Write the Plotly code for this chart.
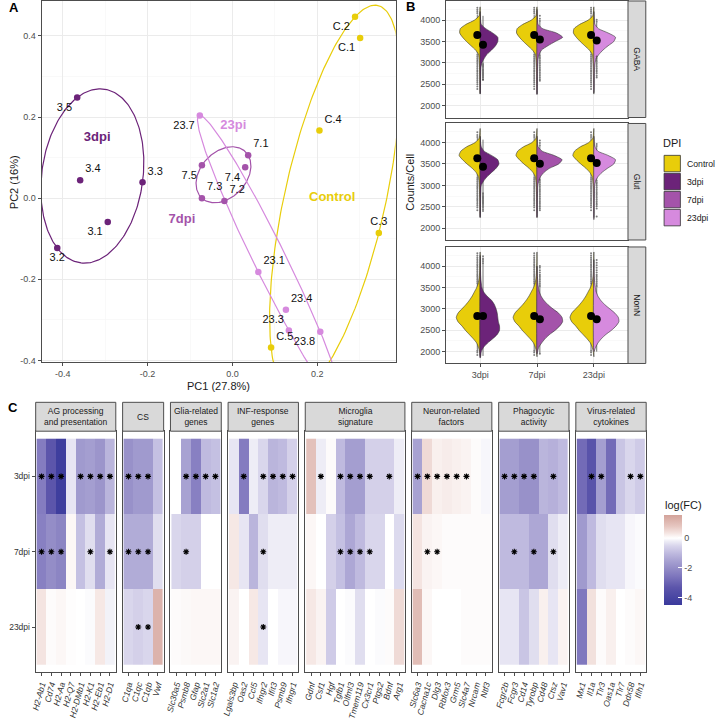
import numpy as np
import plotly.graph_objects as go

# =====================================================================
# DATA
# =====================================================================
# ---------- Panel A : PCA ----------
pca_sample = ["C.1", "C.2", "C.3", "C.4", "C.5",
              "3.1", "3.2", "3.3", "3.4", "3.5",
              "7.1", "7.2", "7.3", "7.4", "7.5",
              "23.1", "23.3", "23.4", "23.7", "23.8"]
pca_group = ["Control", "Control", "Control", "Control", "Control",
             "3dpi", "3dpi", "3dpi", "3dpi", "3dpi",
             "7dpi", "7dpi", "7dpi", "7dpi", "7dpi",
             "23dpi", "23dpi", "23dpi", "23dpi", "23dpi"]
pc1 = [0.301, 0.289, 0.345, 0.205, 0.091,
       -0.294, -0.413, -0.212, -0.359, -0.366,
       0.037, -0.019, -0.072, 0.030, -0.072,
       0.061, 0.133, 0.126, -0.077, 0.207]
pc2 = [0.395, 0.447, -0.086, 0.167, -0.368,
       -0.059, -0.123, 0.039, 0.044, 0.248,
       0.106, -0.007, 0.000, 0.076, 0.081,
       -0.182, -0.326, -0.275, 0.204, -0.329]
group_label_text = ["Control", "3dpi", "7dpi", "23pi"]
group_label_group = ["Control", "3dpi", "7dpi", "23dpi"]
group_label_pc1 = [0.235, -0.319, -0.119, 0.002]
group_label_pc2 = [0.000, 0.150, -0.052, 0.179]

# ---------- Panel B : counts per cell ----------
b_facets = ["GABA", "Glut", "NonN"]
b_groups = ["3dpi", "7dpi", "23dpi"]
violin_levels = [1800, 1900, 2000, 2100, 2200, 2300, 2400, 2500, 2600, 2700,
                 2800, 2900, 3000, 3100, 3200, 3300, 3400, 3500, 3600, 3700,
                 3800, 3900, 4000, 4100, 4200, 4300, 4400]
# half-widths of the density at violin_levels (0 = outside data range)
gaba_ctrl_w = [0, 0, 0, 0, 0, 0.004, 0.005, 0.006, 0.007, 0.008, 0.01, 0.012, 0.015, 0.02,
               0.03, 0.08, 0.16, 0.24, 0.31, 0.36, 0.35, 0.25, 0.1, 0.02, 0.008, 0.003, 0]
gaba_3dpi_w = [0, 0, 0, 0, 0, 0.004, 0.005, 0.006, 0.007, 0.008, 0.01, 0.015, 0.03, 0.07,
               0.12, 0.2, 0.27, 0.31, 0.31, 0.22, 0.1, 0.02, 0.008, 0.004, 0.002, 0, 0]
gaba_7dpi_w = [0, 0, 0, 0, 0, 0.004, 0.005, 0.006, 0.007, 0.008, 0.009, 0.011, 0.014, 0.02,
               0.04, 0.08, 0.19, 0.32, 0.45, 0.34, 0.1, 0.02, 0.01, 0.006, 0.003, 0, 0]
gaba_23dpi_w = [0, 0, 0, 0, 0, 0.004, 0.005, 0.006, 0.007, 0.008, 0.01, 0.014, 0.02, 0.04,
                0.09, 0.16, 0.25, 0.35, 0.38, 0.25, 0.08, 0.02, 0.008, 0.004, 0.002, 0, 0]
glut_ctrl_w = [0, 0, 0, 0, 0, 0.004, 0.005, 0.006, 0.007, 0.008, 0.01, 0.012, 0.015, 0.02,
               0.03, 0.07, 0.14, 0.23, 0.31, 0.37, 0.34, 0.24, 0.09, 0.02, 0.008, 0.003, 0]
glut_3dpi_w = [0, 0, 0, 0, 0, 0.004, 0.005, 0.006, 0.007, 0.008, 0.01, 0.013, 0.02, 0.06,
               0.12, 0.2, 0.28, 0.33, 0.31, 0.2, 0.07, 0.02, 0.008, 0.004, 0, 0, 0]
glut_7dpi_w = [0, 0, 0, 0, 0, 0.004, 0.005, 0.006, 0.007, 0.008, 0.009, 0.011, 0.014, 0.03,
               0.06, 0.12, 0.22, 0.38, 0.44, 0.3, 0.09, 0.02, 0.008, 0.004, 0, 0, 0]
glut_23dpi_w = [0, 0, 0, 0, 0, 0.004, 0.005, 0.006, 0.007, 0.008, 0.009, 0.011, 0.014, 0.03,
                0.07, 0.14, 0.24, 0.35, 0.38, 0.25, 0.07, 0.02, 0.008, 0.004, 0, 0, 0]
nonn_ctrl_w = [0, 0.003, 0.01, 0.03, 0.06, 0.12, 0.19, 0.26, 0.32, 0.39, 0.42, 0.39, 0.32, 0.25,
               0.19, 0.14, 0.1, 0.06, 0.035, 0.02, 0.012, 0.008, 0.006, 0.004, 0.003, 0.002, 0]
nonn_3dpi_w = [0, 0.01, 0.02, 0.06, 0.13, 0.22, 0.3, 0.34, 0.34, 0.32, 0.31, 0.3, 0.28, 0.25,
               0.2, 0.12, 0.06, 0.03, 0.02, 0.012, 0.008, 0.006, 0.004, 0.003, 0.002, 0, 0]
nonn_7dpi_w = [0, 0, 0.01, 0.03, 0.08, 0.14, 0.22, 0.32, 0.4, 0.45, 0.44, 0.38, 0.28, 0.19,
               0.12, 0.07, 0.04, 0.025, 0.015, 0.01, 0.006, 0.004, 0, 0, 0, 0, 0]
nonn_23dpi_w = [0, 0, 0, 0.03, 0.07, 0.13, 0.21, 0.31, 0.39, 0.44, 0.43, 0.37, 0.28, 0.19,
                0.12, 0.07, 0.04, 0.025, 0.015, 0.01, 0.006, 0.004, 0.003, 0.002, 0, 0, 0]
# order of the 12 entries below: GABA ctrl,3,7,23 | Glut ctrl,3,7,23 | NonN ctrl,3,7,23
violin_min = [2270, 2280, 2260, 2300, 2250, 2250, 2250, 2200, 1880, 1850, 1950, 2000]
violin_max = [4310, 4200, 4250, 4200, 4330, 4150, 4150, 4150, 4330, 4250, 4000, 4150]
box_q1 = [3561, 3254, 3485, 3462, 3535, 3302, 3442, 3419, 2618, 2502, 2541, 2541]
box_median = [3670, 3440, 3584, 3560, 3650, 3450, 3540, 3520, 2830, 2830, 2760, 2750]
box_q3 = [3792, 3600, 3677, 3654, 3767, 3612, 3635, 3612, 3004, 3120, 2927, 2927]
box_lower = [3215, 3000, 3200, 3180, 3190, 2840, 3160, 3130, 2040, 1900, 1965, 2000]
box_upper = [4130, 4100, 3960, 3940, 4110, 4070, 3920, 3900, 3580, 4040, 3500, 3500]
group_mean = [3654, 3423, 3546, 3523, 3637, 3437, 3506, 3521, 2834, 2834, 2757, 2757]
out_gaba_ctrl = [4160, 4200, 4240, 4290, 3190, 3150, 3110, 3070, 3030, 2990, 2950, 2910, 2870,
                 2830, 2790, 2750, 2710, 2670, 2630, 2590, 2550, 2500, 2450, 2390]
out_gaba_3dpi = [2980, 2950, 2920, 2890, 2860, 2830, 2800, 2770, 2740, 2710, 2680, 2650, 2620, 2600]
out_gaba_7dpi = [3980, 4030, 4100, 3180, 3140, 3100, 3060, 3020, 2980, 2940, 2900, 2860, 2820,
                 2780, 2740, 2700, 2660, 2620, 2580]
out_gaba_23dpi = [3960, 4010, 3150, 3110, 3070, 3030, 2990, 2950, 2910, 2870, 2830, 2790, 2750,
                  2700, 2660]
out_glut_ctrl = [4130, 4180, 4240, 3170, 3130, 3090, 3050, 3010, 2970, 2930, 2890, 2850, 2810,
                 2770, 2730, 2690, 2650, 2610, 2570, 2530, 2480, 2420]
out_glut_3dpi = [2820, 2790, 2760, 2730, 2700, 2670, 2640, 2610, 2580, 2550, 2520, 2480, 2440, 2400]
out_glut_7dpi = [3940, 3990, 4050, 3140, 3100, 3060, 3020, 2980, 2940, 2900, 2860, 2820, 2780,
                 2740, 2700, 2660, 2620, 2580, 2540, 2500, 2460, 2420]
out_glut_23dpi = [3920, 3970, 3110, 3070, 3030, 2990, 2950, 2910, 2870, 2830, 2790, 2750, 2710,
                  2670, 2630, 2590, 2550, 2510, 2460, 2270]
out_nonn_ctrl = [3600, 3640, 3680, 3720, 3760, 3800, 3840, 3880, 3920, 3960, 4000, 4040, 4080,
                 4120, 4160, 4200, 4250, 4300, 2020, 1980, 1920]
out_nonn_3dpi = [4060, 4100, 4140, 4180, 4230]
out_nonn_7dpi = [3520, 3560, 3600, 3640, 3680, 3720, 3760, 3800, 3850, 3900, 3960, 4000, 1950]
out_nonn_23dpi = [3520, 3560, 3600, 3640, 3680, 3720, 3760, 3800, 3850, 3900, 3960, 4020, 4080, 4140]

# ---------- Panel C : log fold changes ----------
module_names = ["AG processing<br>and presentation", "CS", "Glia-related<br>genes",
                "INF-response<br>genes", "Microglia<br>signature", "Neuron-related<br>factors",
                "Phagocytic<br>activity", "Virus-related<br>cytokines"]
genes_ag = ["H2-Ab1", "Cd74", "H2-Aa", "H2-Q7", "H2-DMb1", "H2-K1", "H2-Eb1", "H2-D1"]
genes_cs = ["C1qa", "C1qc", "C1qb", "Vwf"]
genes_glia = ["Slc30a5", "Psmb8", "Gfap", "Slc2a1", "Slc1a2"]
genes_inf = ["Lgals3bp", "Oas2", "Ccl5", "Ifngr2", "Ifit3", "Psmb9", "Ifngr1"]
genes_micro = ["Gdnf", "Csf1", "Hgf", "Tgfb1", "Olfml3", "Tmem119", "Cx3cr1", "Ptgs2", "Bdnf", "Arg1"]
genes_neuron = ["Slc6a3", "Cacna1c", "Dlg3", "Rbfox3", "Grm5", "Slc4a7", "Nrcam", "Ntf3"]
genes_phago = ["Fcgr2b", "Fcgr3", "Cd14", "Tyrobp", "Cd48", "Ctsz", "Vav1"]
genes_virus = ["Mx1", "Il1a", "Tlr3", "Oas1a", "Tlr7", "Ddx58", "Ifih1"]
heat_rows = ["3dpi", "7dpi", "23dpi"]
lfc_3dpi = [-2.4, -3.3, -4.3, -0.3, -1.7, -1.6, -1.8, -1.1,
            -1.9, -1.7, -1.7, -0.9,
            0.0, -1.5, -2.3, -1.0, -0.9,
            -0.3, -2.4, -0.2, -0.5, -1.1, -1.0, -0.6,
            0.9, -0.2, 0.05, -1.0, -1.6, -1.6, -0.6, -0.6, -0.6, -0.2,
            -1.5, 0.5, 0.2, 0.25, 0.2, 0.15, 0.05, -0.1,
            -1.6, -1.6, -1.9, -1.9, -1.1, -1.2, -1.0,
            -2.8, -3.4, -1.6, -2.8, -0.8, -0.5, -0.7]
lfc_7dpi = [-2.3, -2.0, -2.2, 0.1, -0.9, -0.4, -1.3, -0.3,
            -1.3, -1.3, -1.3, -0.4,
            -0.5, -0.6, -0.6, 0.0, 0.0,
            0.3, -0.3, -1.1, -0.4, -0.2, -0.2, -0.2,
            0.1, 0.0, -0.6, -0.9, -1.4, -1.0, -0.5, -0.5, 0.0, -0.45,
            0.35, 0.15, 0.1, 0.05, 0.05, 0.05, 0.05, 0.05,
            -1.0, -1.0, -1.0, -1.4, -1.4, -0.4, -0.2,
            -1.7, -1.0, -0.4, -0.3, -0.3, -0.1, -0.05]
lfc_23dpi = [0.35, 0.05, 0.1, 0.02, 0.0, -0.05, 0.3, -0.15,
             -0.5, -0.6, -0.5, 1.2,
             0.05, 0.08, 0.1, 0.1, 0.1,
             0.15, 0.0, 0.3, -0.3, 0.0, -0.1, -0.1,
             0.3, 0.15, -0.7, 0.0, -0.05, -0.4, 0.0, -0.05, 0.05, 0.5,
             1.0, 0.1, 0.0, 0.0, 0.0, 0.05, 0.05, 0.05,
             -0.3, -0.3, -0.8, -0.4, 0.2, -0.3, 0.15,
             -2.5, 0.4, 0.05, 0.2, 0.0, 0.05, 0.1]
sig_3dpi = [1, 1, 1, 0, 1, 1, 1, 1,
            1, 1, 1, 0,
            0, 1, 1, 1, 1,
            0, 1, 0, 1, 1, 1, 1,
            0, 1, 0, 1, 1, 1, 1, 0, 1, 0,
            1, 1, 1, 1, 1, 1, 0, 0,
            1, 1, 1, 1, 0, 1, 0,
            0, 1, 1, 0, 0, 1, 1]
sig_7dpi = [1, 1, 1, 0, 0, 1, 0, 1,
            1, 1, 1, 0,
            0, 1, 0, 0, 0,
            0, 0, 0, 1, 0, 0, 0,
            0, 0, 0, 1, 1, 1, 1, 0, 0, 0,
            0, 1, 1, 0, 0, 0, 0, 0,
            0, 1, 0, 1, 0, 1, 0,
            0, 0, 0, 0, 0, 0, 0]
sig_23dpi = [0, 0, 0, 0, 0, 0, 0, 0,
             0, 1, 1, 0,
             0, 0, 0, 0, 0,
             0, 0, 0, 1, 0, 0, 0,
             0, 0, 0, 0, 0, 0, 0, 0, 0, 0,
             0, 0, 0, 0, 0, 0, 0, 0,
             0, 0, 0, 0, 0, 0, 0,
             0, 0, 0, 0, 0, 0, 0]
colorbar_ticks = [-4, -2, 0]

# =====================================================================
# STYLE / LAYOUT HELPERS
# =====================================================================
W, H = 717, 721
FONT = "Liberation Sans, Arial, Helvetica, sans-serif"
INK = "#1A1A1A"
TICKC = "#4D4D4D"
FRAME = "#4D4D4D"
GRID = "#EBEBEB"
GRIDMINOR = "#F5F5F5"
STRIPC = "#D9D9D9"
DPI_COLORS = {"Control": "#E8CD0A", "3dpi": "#6C2379", "7dpi": "#A453AA", "23dpi": "#D68ADE"}
label_pos = ["bottom left", "bottom left", "top center", "top right", "top right",
             "bottom left", "bottom center", "top right", "top right", "bottom left",
             "top right", "top right", "top right", "bottom left", "bottom left",
             "top right", "top left", "top right", "bottom left", "bottom left"]
C_MIN, C_MAX = -4.47, 1.55
cs_vals = [-4.47, -3.3, -2.5, -2.0, -1.5, -1.0, -0.5, -0.2, 0.0, 0.35, 0.8, 1.55]
cs_cols = ["#3A3A9C", "#5C55AB", "#8078BE", "#948DC7", "#A8A2D2", "#BFBADF", "#D9D6EC",
           "#EEEDF6", "#FFFFFF", "#F4E4E1", "#E6C6C0", "#D3A39A"]


def fx(p):
    return p / W


def fy(p):
    return 1 - p / H


def mvee(points, tol=1e-7, maxit=200000):
    """Minimum-volume enclosing ellipse (Khachiyan)."""
    P = np.asarray(points, float)
    N, d = P.shape
    Q = np.vstack([P.T, np.ones(N)])
    u = np.full(N, 1.0 / N)
    for _ in range(maxit):
        X = (Q * u) @ Q.T
        M = np.einsum("ij,ji->i", Q.T, np.linalg.solve(X, Q))
        j = int(np.argmax(M))
        step = (M[j] - d - 1.0) / ((d + 1.0) * (M[j] - 1.0))
        new_u = (1 - step) * u
        new_u[j] += step
        done = np.linalg.norm(new_u - u) < tol
        u = new_u
        if done:
            break
    c = P.T @ u
    A = np.linalg.inv((P.T * u) @ P - np.outer(c, c)) / d
    w, V = np.linalg.eigh(A)
    t = np.linspace(0, 2 * np.pi, 240)
    circ = np.vstack([np.cos(t) / np.sqrt(w[0]), np.sin(t) / np.sqrt(w[1])])
    return c[:, None] + V @ circ


def base_axis(**kw):
    d = dict(showline=True, mirror=True, linecolor=FRAME, linewidth=1, zeroline=False,
             ticks="outside", ticklen=3, tickwidth=1, tickcolor=FRAME,
             tickfont=dict(family=FONT, size=9, color=TICKC), showgrid=False, fixedrange=True)
    d.update(kw)
    return d


fig = go.Figure()
layout = {}
shapes = []
annotations = []


def annot(text, x, y, size=11, color=INK, xanchor="center", yanchor="middle", angle=0, bold=False):
    annotations.append(dict(text=("<b>%s</b>" % text) if bold else text, x=fx(x), y=fy(y),
                             xref="paper", yref="paper", showarrow=False, xanchor=xanchor,
                             yanchor=yanchor, textangle=angle, borderpad=0,
                             font=dict(family=FONT, size=size, color=color)))


# =====================================================================
# PANEL A
# =====================================================================
for g in ["Control", "3dpi", "7dpi", "23dpi"]:
    idx = [i for i, gg in enumerate(pca_group) if gg == g]
    pts = np.array([[pc1[i], pc2[i]] for i in idx])
    e = mvee(pts)
    fig.add_trace(go.Scatter(x=e[0], y=e[1], mode="lines", xaxis="x", yaxis="y",
                             line=dict(color=DPI_COLORS[g], width=1.2), hoverinfo="skip"))
fig.add_trace(go.Scatter(
    x=pc1, y=pc2, mode="markers+text", xaxis="x", yaxis="y", text=pca_sample,
    textposition=label_pos, textfont=dict(family=FONT, size=11, color="#111111"),
    marker=dict(size=6.5, color=[DPI_COLORS[g] for g in pca_group]), hoverinfo="skip"))
fig.add_trace(go.Scatter(
    x=group_label_pc1, y=group_label_pc2, mode="text", xaxis="x", yaxis="y",
    text=["<b>%s</b>" % t for t in group_label_text], textposition="middle center",
    textfont=dict(family=FONT, size=13, color=[DPI_COLORS[g] for g in group_label_group]),
    hoverinfo="skip"))

layout["xaxis"] = base_axis(domain=[fx(35), fx(393)], range=[-0.4499, 0.3846], anchor="y",
                            tickvals=[-0.4, -0.2, 0.0, 0.2], ticktext=["-0.4", "-0.2", "0.0", "0.2"],
                            showgrid=True, gridcolor=GRID, gridwidth=1,
                            minor=dict(tickvals=[-0.3, -0.1, 0.1, 0.3], showgrid=True,
                                       gridcolor=GRIDMINOR, gridwidth=0.6))
layout["yaxis"] = base_axis(domain=[fy(364), fy(1)], range=[-0.4049, 0.4859], anchor="x",
                            tickvals=[-0.4, -0.2, 0.0, 0.2, 0.4],
                            ticktext=["-0.4", "-0.2", "0.0", "0.2", "0.4"],
                            showgrid=True, gridcolor=GRID, gridwidth=1,
                            minor=dict(tickvals=[-0.3, -0.1, 0.1, 0.3], showgrid=True,
                                       gridcolor=GRIDMINOR, gridwidth=0.6))
annot("PC1 (27.8%)", 214, 388, size=11)
annot("PC2 (16%)", 7, 183, size=11, angle=-90)
annot("A", 7, 8, size=13, bold=True, color="#000000")

# =====================================================================
# PANEL B
# =====================================================================
profiles = [gaba_ctrl_w, gaba_3dpi_w, gaba_7dpi_w, gaba_23dpi_w,
            glut_ctrl_w, glut_3dpi_w, glut_7dpi_w, glut_23dpi_w,
            nonn_ctrl_w, nonn_3dpi_w, nonn_7dpi_w, nonn_23dpi_w]
outliers = [out_gaba_ctrl, out_gaba_3dpi, out_gaba_7dpi, out_gaba_23dpi,
            out_glut_ctrl, out_glut_3dpi, out_glut_7dpi, out_glut_23dpi,
            out_nonn_ctrl, out_nonn_3dpi, out_nonn_7dpi, out_nonn_23dpi]
b_tops = [1, 124, 248]
b_bots = [118, 241, 365]
DODGE = 0.05

for f, fac in enumerate(b_facets):
    xa, ya = "x%d" % (2 + f), "y%d" % (2 + f)
    base = 4 * f
    for j, grp in enumerate(b_groups):
        cx = j + 1
        halves = [(-1, base, DPI_COLORS["Control"]), (1, base + 1 + j, DPI_COLORS[grp])]
        for side, k, col in halves:
            lo, hi = violin_min[k], violin_max[k]
            ys = [lo] + [v for v in violin_levels if lo < v < hi] + [hi]
            ws = [0] + [profiles[k][i] for i, v in enumerate(violin_levels) if lo < v < hi] + [0]
            xs = [cx + side * w for w in ws]
            fig.add_trace(go.Scatter(x=xs + [cx], y=ys + [lo], mode="lines", fill="toself",
                                     fillcolor=col, xaxis=xa, yaxis=ya,
                                     line=dict(color="#333333", width=0.6, shape="spline",
                                               smoothing=0.6),
                                     hoverinfo="skip"))
        for side, k, col in halves:
            bx = cx + side * DODGE
            fig.add_trace(go.Box(x=[bx], q1=[box_q1[k]], median=[box_median[k]], q3=[box_q3[k]],
                                 lowerfence=[box_lower[k]], upperfence=[box_upper[k]],
                                 width=0.1, whiskerwidth=0, boxpoints=False, orientation="v",
                                 fillcolor=col, line=dict(color="#333333", width=0.7),
                                 xaxis=xa, yaxis=ya, hoverinfo="skip"))
            fig.add_trace(go.Scatter(x=[bx] * len(outliers[k]), y=outliers[k], mode="markers",
                                     marker=dict(size=2, color="rgba(40,40,40,0.6)"),
                                     xaxis=xa, yaxis=ya, hoverinfo="skip"))
        fig.add_trace(go.Scatter(x=[cx - DODGE, cx + DODGE],
                                 y=[group_mean[base], group_mean[base + 1 + j]],
                                 mode="markers", marker=dict(size=8, color="black"),
                                 xaxis=xa, yaxis=ya, hoverinfo="skip"))
    last = f == 2
    layout["xaxis%d" % (2 + f)] = base_axis(
        domain=[fx(444), fx(628)], range=[0.4, 3.6], anchor=ya, tickvals=[1, 2, 3],
        ticktext=b_groups, showticklabels=last, ticks="outside" if last else "",
        showgrid=True, gridcolor=GRID, gridwidth=1)
    layout["yaxis%d" % (2 + f)] = base_axis(
        domain=[fy(b_bots[f]), fy(b_tops[f])], range=[1723, 4447], anchor=xa,
        tickvals=[2000, 2500, 3000, 3500, 4000], showgrid=True, gridcolor=GRID, gridwidth=1,
        minor=dict(tickvals=[2250, 2750, 3250, 3750, 4250], showgrid=True,
                   gridcolor=GRIDMINOR, gridwidth=0.6))
    shapes.append(dict(type="rect", xref="paper", yref="paper", x0=fx(628), x1=fx(646),
                       y0=fy(b_bots[f]), y1=fy(b_tops[f]), fillcolor=STRIPC,
                       line=dict(color=FRAME, width=1), layer="above"))
    annot(fac, 637, (b_tops[f] + b_bots[f]) / 2, size=8.5, angle=90)

annot("Counts/Cell", 408, 183, size=11, angle=-90)
annot("B", 408, 7, size=13, bold=True, color="#000000")
# legend
annot("DPI", 662, 144, size=11, xanchor="left")
for i, g in enumerate(["Control", "3dpi", "7dpi", "23dpi"]):
    y0 = 156 + 18.1 * i
    shapes.append(dict(type="rect", xref="paper", yref="paper", x0=fx(664.5), x1=fx(681),
                       y0=fy(y0 + 16.5), y1=fy(y0), fillcolor=DPI_COLORS[g],
                       line=dict(color="#333333", width=0.8), layer="above"))
    annot(g, 687, y0 + 8.3, size=8.7, xanchor="left", color=INK)

# =====================================================================
# PANEL C
# =====================================================================
module_genes = [genes_ag, genes_cs, genes_glia, genes_inf, genes_micro,
                genes_neuron, genes_phago, genes_virus]
UNIT, GAP, LEFT = 9.88, 6.9, 29.0
C_TOP, C_BOT, S_TOP = 433, 675, 404
cs = [[(v - C_MIN) / (C_MAX - C_MIN), c] for v, c in zip(cs_vals, cs_cols)]
offset = 0
left = LEFT
for m, genes in enumerate(module_genes):
    n = len(genes)
    right = left + (n + 0.2) * UNIT
    xa, ya = "x%d" % (5 + m), "y%d" % (5 + m)
    sl = slice(offset, offset + n)
    z = [lfc_3dpi[sl], lfc_7dpi[sl], lfc_23dpi[sl]]
    fig.add_trace(go.Heatmap(z=z, x=list(range(n)), y=[0, 1, 2], coloraxis="coloraxis",
                             xaxis=xa, yaxis=ya, hoverinfo="skip"))
    sx, sy = [], []
    for r, sig in enumerate([sig_3dpi, sig_7dpi, sig_23dpi]):
        for gi, s in enumerate(sig[sl]):
            if s:
                sx.append(gi)
                sy.append(r)
    if sx:
        fig.add_trace(go.Scatter(x=sx, y=sy, mode="markers", xaxis=xa, yaxis=ya,
                                 marker=dict(symbol="asterisk-open", size=5, color="black",
                                             line=dict(width=1.1, color="black")),
                                 hoverinfo="skip"))
    first = m == 0
    layout["xaxis%d" % (5 + m)] = base_axis(
        domain=[fx(left), fx(right)], range=[-0.6, n - 0.4], anchor=ya,
        tickvals=list(range(n)), ticktext=["<i>%s</i>" % g for g in genes], tickangle=-75,
        tickfont=dict(family=FONT, size=8.5, color="#333333"))
    layout["yaxis%d" % (5 + m)] = base_axis(
        domain=[fy(C_BOT), fy(C_TOP)], range=[2.6, -0.6], anchor=xa, tickvals=[0, 1, 2],
        ticktext=heat_rows, showticklabels=first, ticks="outside" if first else "",
        tickfont=dict(family=FONT, size=8.5, color="#333333"))
    shapes.append(dict(type="rect", xref="paper", yref="paper", x0=fx(left), x1=fx(right),
                       y0=fy(C_TOP), y1=fy(S_TOP), fillcolor=STRIPC,
                       line=dict(color=FRAME, width=1), layer="above"))
    annot(module_names[m], (left + right) / 2, (S_TOP + C_TOP) / 2, size=8.5)
    offset += n
    left = right + GAP

annot("C", 6, 409, size=13, bold=True, color="#000000")
annot("log(FC)", 664, 507, size=11, xanchor="left")

layout["coloraxis"] = dict(
    cmin=C_MIN, cmax=C_MAX, colorscale=cs,
    colorbar=dict(x=fx(664), xanchor="left", y=fy(562), yanchor="middle",
                  len=90, lenmode="pixels", thickness=18, thicknessmode="pixels",
                  xpad=0, ypad=0, outlinewidth=0, tickvals=colorbar_ticks,
                  ticktext=[str(v) for v in colorbar_ticks], ticks="inside", ticklen=4,
                  tickcolor="white", tickfont=dict(family=FONT, size=9, color=TICKC)))

fig.update_layout(
    width=W, height=H, autosize=False, margin=dict(l=0, r=0, t=0, b=0, pad=0),
    paper_bgcolor="white", plot_bgcolor="white", showlegend=False,
    font=dict(family=FONT, size=10, color=INK), boxmode="overlay",
    shapes=shapes, annotations=annotations, **layout)

fig.write_html("out.html",
               config={"displayModeBar": False, "staticPlot": True},
               post_script="document.body.style.margin='0px';"
                           "document.body.style.overflow='hidden';")
